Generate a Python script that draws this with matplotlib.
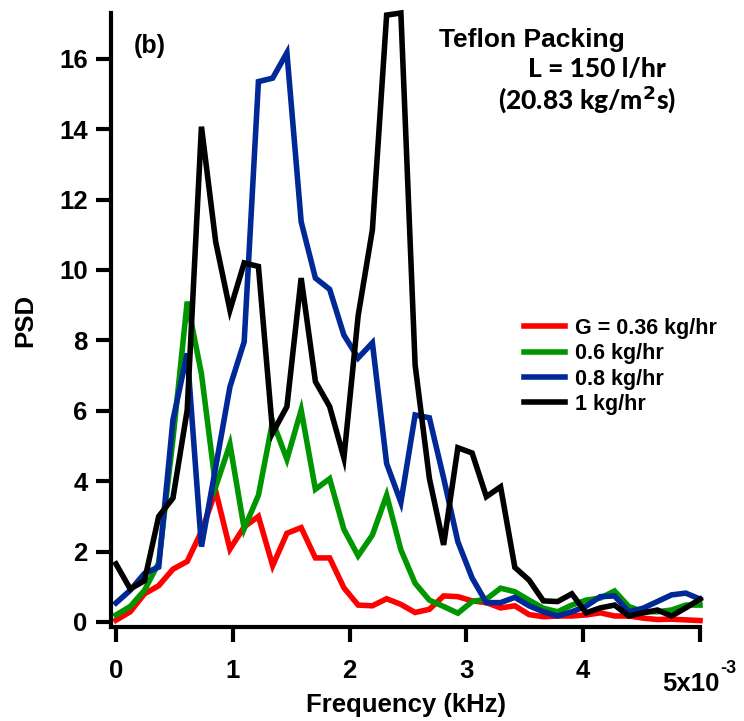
import numpy as np
from matplotlib import pyplot as plt

# frequency grid (units of 1e-3 kHz)
freq = np.linspace(0, 5, 42)

psd_036 = [0.05, 0.29, 0.80, 1.03, 1.50, 1.72, 2.57, 3.72, 2.07, 2.70,
           3.00, 1.60, 2.52, 2.68, 1.82, 1.82, 0.97, 0.48, 0.46, 0.66,
           0.50, 0.27, 0.36, 0.74, 0.72, 0.60, 0.55, 0.40, 0.46, 0.21,
           0.15, 0.17, 0.17, 0.20, 0.26, 0.17, 0.17, 0.11, 0.07, 0.08,
           0.06, 0.04]
psd_06 = [0.20, 0.44, 0.90, 1.68, 5.20, 9.10, 7.05, 3.84, 5.05, 2.65,
          3.60, 5.70, 4.62, 6.02, 3.77, 4.07, 2.63, 1.88, 2.47, 3.60,
          2.05, 1.10, 0.62, 0.44, 0.25, 0.58, 0.65, 0.96, 0.86, 0.62,
          0.39, 0.29, 0.48, 0.62, 0.68, 0.88, 0.44, 0.29, 0.29, 0.34,
          0.48, 0.48]
psd_08 = [0.54, 0.90, 1.38, 1.56, 5.74, 7.63, 2.14, 4.40, 6.68, 7.96,
          15.35, 15.45, 16.17, 11.37, 9.77, 9.45, 8.15, 7.50, 7.93, 4.50,
          3.40, 5.88, 5.80, 4.09, 2.28, 1.25, 0.55, 0.55, 0.70, 0.46,
          0.29, 0.17, 0.29, 0.45, 0.72, 0.74, 0.29, 0.39, 0.58, 0.77,
          0.82, 0.65]
psd_1 = [1.65, 0.94, 1.17, 3.00, 3.52, 6.02, 14.07, 10.80, 8.86, 10.20,
         10.10, 5.37, 6.12, 9.77, 6.83, 6.12, 4.66, 8.70, 11.14, 17.24,
         17.30, 7.30, 4.08, 2.19, 4.95, 4.80, 3.56, 3.84, 1.55, 1.19,
         0.60, 0.58, 0.80, 0.26, 0.40, 0.48, 0.17, 0.26, 0.34, 0.17,
         0.40, 0.65]

labels = ['G = 0.36 kg/hr', '0.6 kg/hr', '0.8 kg/hr', '1 kg/hr']
colors = ['#ff0000', '#009600', '#002896', '#000000']
x_ticks = [0, 1, 2, 3, 4, 5]
x_ticklabels = ['0', '1', '2', '3', '4', '']
y_ticks = [0, 2, 4, 6, 8, 10, 12, 14, 16]

plt.rcParams['font.family'] = ['Liberation Sans', 'DejaVu Sans']
plt.rcParams['font.weight'] = 'bold'

fig = plt.figure(figsize=(7.44, 7.21), dpi=100)
ax = fig.add_axes([0.1496, 0.1304, 0.7913, 0.8516])

for y, lab, c in zip([psd_036, psd_06, psd_08, psd_1], labels, colors):
    ax.plot(freq, y, color=c, lw=4, label=lab, clip_on=False,
            solid_joinstyle='miter')

ax.set_xlim(-0.04, 5.0)
ax.set_ylim(-0.142, 17.3)
ax.spines['top'].set_visible(False)
ax.spines['right'].set_visible(False)
ax.spines['left'].set_linewidth(3)
ax.spines['bottom'].set_linewidth(3)

ax.set_xticks(x_ticks)
ax.set_xticklabels(x_ticklabels)
ax.set_yticks(y_ticks)
ax.tick_params(axis='both', length=11, width=3, labelsize=18.5)
ax.tick_params(axis='x', pad=12)
ax.tick_params(axis='y', pad=6)
for t in ax.get_xticklabels() + ax.get_yticklabels():
    t.set_fontweight('bold')

# multiplier label under the last tick
xt = ax.get_xaxis_transform()
ax.text(5.17, -0.093, '5x10', transform=xt, ha='right', va='center',
        fontsize=18.5, fontweight='bold')
ax.text(5.17, -0.068, '-3', transform=xt, ha='left', va='center',
        fontsize=13, fontweight='bold')

ax.set_xlabel('Frequency (kHz)', fontsize=18.5, fontweight='bold', labelpad=7)
ax.set_ylabel('PSD', fontsize=18.5, fontweight='bold', labelpad=16)

fig.text(150 / 744, 1 - 46 / 721, '(b)', fontsize=18, fontweight='bold',
         ha='center', va='center')
fig.text(532 / 744, 1 - 40 / 721, 'Teflon Packing', fontsize=19,
         fontweight='bold', ha='center', va='center')
fig.text(597 / 744, 1 - 69 / 721, 'L = 150 l/hr', fontsize=19,
         fontweight='black', ha='center', va='center', family='Lato')
fig.text(587 / 744, 1 - 100 / 721, '(20.83 kg/m$^\\mathbf{2}$s)', fontsize=19,
         fontweight='black', ha='center', va='center', family='Lato')

ax.legend(loc='upper left', bbox_to_anchor=(524 / 744, 1 - 318 / 721),
          bbox_transform=fig.transFigure, frameon=False,
          handlelength=1.9, handletextpad=0.45, labelspacing=0.2,
          borderpad=0, borderaxespad=0, prop={'weight': 'bold', 'size': 15.5})

fig.savefig('out.png', dpi=100)
